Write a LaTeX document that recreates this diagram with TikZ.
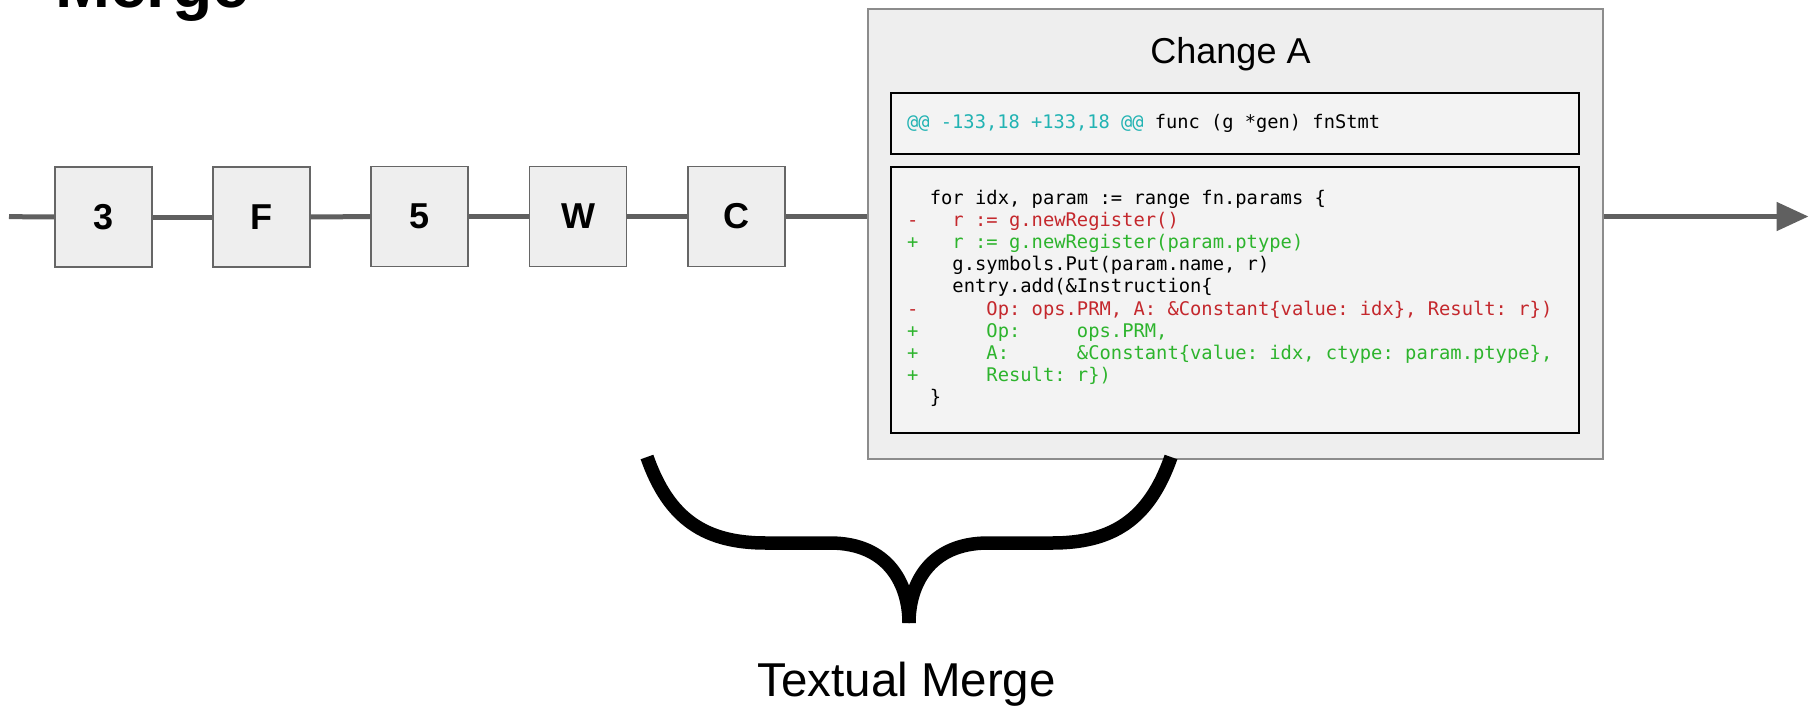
\documentclass[tikz,border=0pt]{standalone}
\usepackage{fontspec}
\setmainfont{Liberation Sans}
\setmonofont{DejaVu Sans Mono}
\usetikzlibrary{arrows.meta}

\definecolor{boxfill}{HTML}{EEEEEE}
\definecolor{codefill}{HTML}{F3F3F3}
\definecolor{boxline}{HTML}{666666}
\definecolor{chainline}{HTML}{606060}
\definecolor{outerline}{HTML}{8C8C8C}
\definecolor{delred}{HTML}{C4282D}
\definecolor{addgreen}{HTML}{2DB42D}
\definecolor{hunkteal}{HTML}{22B3B3}

\tikzset{
  commit/.style={draw=boxline, fill=boxfill, line width=1.6pt,
    minimum width=97pt, minimum height=100pt, inner sep=0pt,
    font=\bfseries\fontsize{36}{36}\selectfont},
  chain/.style={draw=chainline, line width=5pt},
  changebox/.style={draw=outerline, fill=boxfill, line width=2pt,
    minimum width=735pt, minimum height=450pt, inner sep=0pt},
  codebox/.style={draw=black, fill=codefill, line width=2pt,
    minimum width=688pt, inner sep=0pt},
  codeline/.style={anchor=base west, inner sep=0pt,
    font=\ttfamily\fontsize{18.8}{22}\selectfont},
  brace/.style={draw=black, line width=13.5pt, line cap=butt},
}

\begin{document}
\begin{tikzpicture}[x=1pt, y=-1pt]
\useasboundingbox (0,0) rectangle (1809,705);

% slide title
\node[anchor=base west, inner sep=0pt, font=\bfseries\fontsize{66}{66}\selectfont]
  (title) at (55,7) {Merge};

% commit chain
\coordinate (chainstart) at (9,216.7);
\node[commit] (b3) at (103.3,217) {3};
\node[commit] (bF) at (261.5,217) {F};
\node[commit] (b5) at (419.7,216.5) {5};
\node[commit] (bW) at (578,216.5) {W};
\node[commit] (bC) at (736.2,216.5) {C};

% the change box with its diff
\node[changebox] (chg) at (1235.3,233.8) {};
\node[anchor=base, inner sep=0pt, font=\fontsize{36}{36}\selectfont]
  (chgtitle) at (1230.5,63.5) {Change A};
\node[codebox, minimum height=61.6pt] (hunk) at (1234.5,123.5) {};
\node[codebox, minimum height=265.4pt] (body) at (1234.5,300) {};

\node[codeline, font=\ttfamily\fontsize{18.7}{22}\selectfont] (hdr) at (907,128.3)
  {\textcolor{hunkteal}{@@ -133,18 +133,18 @@} func (g *gen) fnStmt};

\node[codeline] (c1) at (907,204.0) {~~for idx, param := range fn.params \{};
\node[codeline, text=delred] (c2) at (907,226.2) {-~~~r := g.newRegister()};
\node[codeline, text=addgreen] (c3) at (907,248.4) {+~~~r := g.newRegister(param.ptype)};
\node[codeline] (c4) at (907,270.6) {~~~~g.symbols.Put(param.name, r)};
\node[codeline] (c5) at (907,292.8) {~~~~entry.add(\&Instruction\{};
\node[codeline, text=delred] (c6) at (907,315.0) {-~~~~~~Op: ops.PRM, A: \&Constant\{value: idx\}, Result: r\})};
\node[codeline, text=addgreen] (c7) at (907,337.2) {+~~~~~~Op:~~~~~ops.PRM,};
\node[codeline, text=addgreen] (c8) at (907,359.4) {+~~~~~~A:~~~~~~\&Constant\{value: idx, ctype: param.ptype\},};
\node[codeline, text=addgreen] (c9) at (907,381.6) {+~~~~~~Result: r\})};
\node[codeline] (c10) at (907,403.8) {~~\}};

% connectors
\draw[chain] (chainstart) -- (b3);
\draw[chain] (b3) -- (bF);
\draw[chain] (bF) -- (b5);
\draw[chain] (b5) -- (bW);
\draw[chain] (bW) -- (bC);
\draw[chain] (bC) -- (bC -| chg.west);
\coordinate (chainend) at (1808.5,216.5);
\draw[chain, -{Triangle[length=32pt, width=28pt]}] (chg.east |- bC) -- (chainend);

% curly brace under the change
\draw[brace] (647,457) .. controls (669,520) and (706,543) .. (766,543)
  -- (830,543) .. controls (889,543) and (909,585) .. (909,623);
\draw[brace] (1171,457) .. controls (1149,520) and (1112,543) .. (1052,543)
  -- (988,543) .. controls (929,543) and (909,585) .. (909,623);

\node[anchor=base, inner sep=0pt, font=\fontsize{47.5}{48}\selectfont]
  (merge) at (906.6,696.7) {Textual Merge};
\end{tikzpicture}
\end{document}
